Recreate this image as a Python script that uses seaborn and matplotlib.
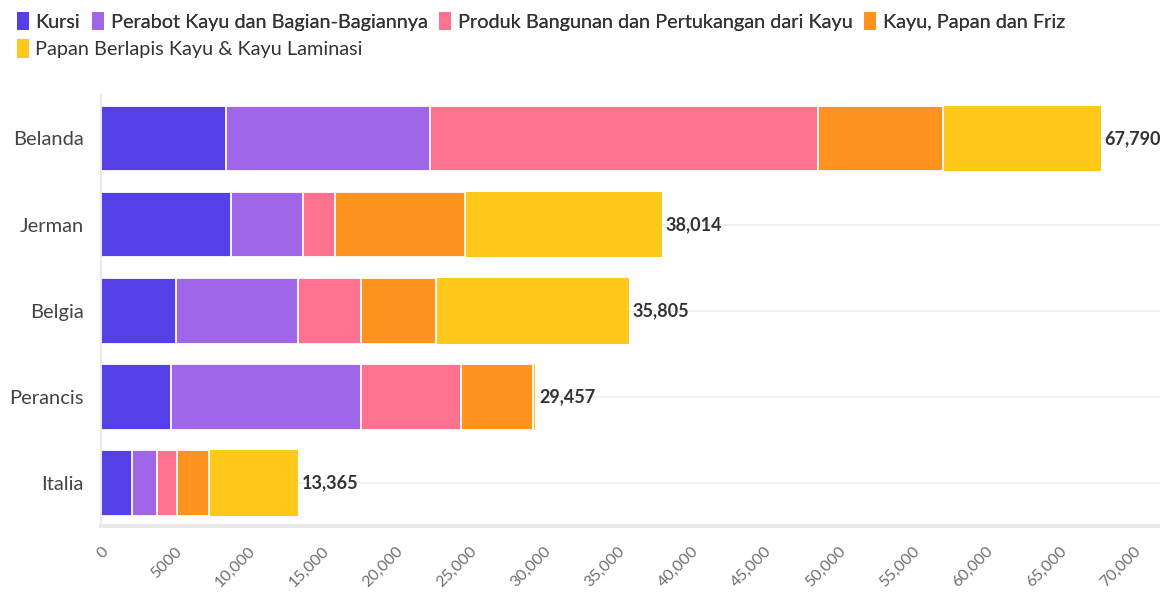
import numpy as np
import pandas as pd
import seaborn as sns
import matplotlib
import matplotlib.pyplot as plt
from matplotlib.patches import Patch
from matplotlib.ticker import FuncFormatter

countries = ['Belanda', 'Jerman', 'Belgia', 'Perancis', 'Italia']
series_names = ['Kursi', 'Perabot Kayu dan Bagian-Bagiannya',
                'Produk Bangunan dan Pertukangan dari Kayu',
                'Kayu, Papan dan Friz', 'Papan Berlapis Kayu & Kayu Laminasi']
kursi = [8465, 8831, 5067, 4782, 2110]
perabot = [13865, 4857, 8282, 12820, 1688]
produk = [26270, 2150, 4253, 6830, 1371]
kayu = [8506, 8852, 5141, 4850, 2157]
papan = [10684, 13324, 13062, 175, 6039]
totals = [67790, 38014, 35805, 29457, 13365]
colors = ['#5540E8', '#A066E8', '#FF728F', '#FF931E', '#FFC81A']

sns.set_theme(style='white')
plt.rcParams['font.family'] = ['Lato', 'DejaVu Sans']

df = pd.DataFrame({'negara': countries, 'Kursi': kursi, 'Perabot': perabot,
                   'Produk': produk, 'Kayu': kayu, 'Papan': papan})
cols = ['Kursi', 'Perabot', 'Produk', 'Kayu', 'Papan']
cum = df[cols].cumsum(axis=1)

fig = plt.figure(figsize=(11.6, 5.92), dpi=100)
ax = fig.add_axes([0.087, 0.111, 0.913, 0.728])

# draw cumulative bars from longest to shortest so the segments stack
for i in range(len(cols) - 1, -1, -1):
    lw = 0 if i == len(cols) - 1 else 1.3
    sns.barplot(x=cum[cols[i]], y=df['negara'], orient='h', color=colors[i],
                saturation=1, width=0.76, edgecolor='white', linewidth=lw,
                ax=ax, zorder=2)

for yi, t in enumerate(totals):
    ax.text(t + 250, yi, f'{t:,}', va='center', ha='left', fontsize=13,
            fontweight='bold', color='#333333')

ax.set_xlim(0, 71800)
ax.set_xticks(np.arange(0, 70001, 5000))
ax.xaxis.set_major_formatter(FuncFormatter(lambda v, p: '0' if v == 0 else ('5000' if v == 5000 else f'{int(v):,}')))
ax.set_xlabel('')
ax.set_ylabel('')
for yi in range(len(countries)):
    ax.axhline(yi, color='#eeeeee', lw=1.2, zorder=0)

for s in ['top', 'right']:
    ax.spines[s].set_visible(False)
ax.spines['left'].set_color('#e6e6e6')
ax.spines['left'].set_linewidth(1.2)
ax.spines['bottom'].set_color('#e8e8e8')
ax.spines['bottom'].set_linewidth(3)

ax.tick_params(axis='y', length=0, pad=12.5, labelsize=14.5, labelcolor='#444444')
ax.tick_params(axis='x', length=8, width=1, color='#e6e6e6', pad=5,
               labelsize=11.5, labelcolor='#6e6e6e')
for lab in ax.get_xticklabels():
    lab.set_rotation(45)
    lab.set_ha('right')
    lab.set_rotation_mode('anchor')

handles = [Patch(facecolor=c, edgecolor='none') for c in colors]
leg_kw = dict(loc='upper left', frameon=False, fontsize=14.3,
              handlelength=0.62, handleheight=1.05, handletextpad=0.33,
              borderaxespad=0.2, labelcolor='#333333')
leg1 = fig.legend(handles[:4], series_names[:4], bbox_to_anchor=(0.004, 1.0),
                  ncol=4, columnspacing=0.58, **leg_kw)
leg2 = fig.legend(handles[4:], series_names[4:], bbox_to_anchor=(0.004, 0.954),
                  ncol=1, **leg_kw)
fig.add_artist(leg1)

fig.savefig('out.png', dpi=100)
